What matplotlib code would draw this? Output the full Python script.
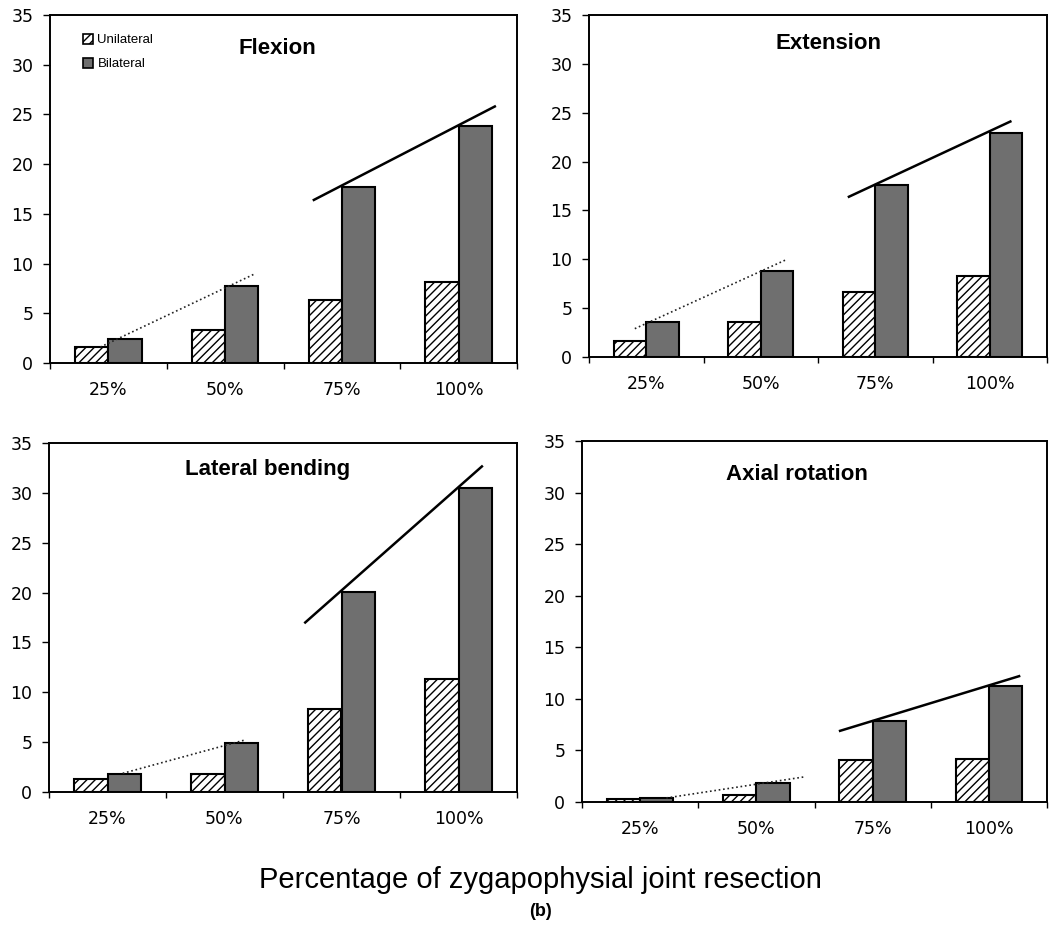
import matplotlib
matplotlib.use("Agg")
import matplotlib.pyplot as plt
from matplotlib.patches import Patch
import numpy as np

plt.rcParams['hatch.linewidth'] = 1.0

categories = ['25%', '50%', '75%', '100%']

flexion_uni = [1.6, 3.3, 6.3, 8.1]
flexion_bi = [2.4, 7.7, 17.7, 23.8]
extension_uni = [1.6, 3.6, 6.7, 8.3]
extension_bi = [3.6, 8.8, 17.6, 22.9]
lateral_uni = [1.3, 1.8, 8.3, 11.3]
lateral_bi = [1.8, 4.9, 20.1, 30.5]
axial_uni = [0.3, 0.7, 4.1, 4.2]
axial_bi = [0.4, 1.8, 7.9, 11.2]

# trend lines: (x0, y0, x1, y1) in category-index / value units
flexion_dotted = [-0.07, 1.6, 1.26, 9.0]
flexion_solid = [1.76, 16.4, 3.31, 25.8]
extension_dotted = [-0.10, 2.9, 1.23, 10.0]
extension_solid = [1.77, 16.4, 3.18, 24.1]
lateral_dotted = [0.13, 1.87, 1.17, 5.2]
lateral_solid = [1.69, 17.0, 3.20, 32.65]
axial_dotted = [0.225, 0.39, 1.41, 2.43]
axial_solid = [1.72, 6.9, 3.26, 12.2]

W, H = 1049, 932
fig = plt.figure(figsize=(W / 100, H / 100), dpi=100)


def px_axes(left, right, top, bottom):
    return fig.add_axes([left / W, (H - bottom) / H, (right - left) / W, (bottom - top) / H])


panels = [
    ("Flexion", flexion_uni, flexion_bi, flexion_dotted, flexion_solid, (50, 517, 15, 363), (0.486, 0.905), True),
    ("Extension", extension_uni, extension_bi, extension_dotted, extension_solid, (589, 1047, 15, 357), (0.524, 0.918), False),
    ("Lateral bending", lateral_uni, lateral_bi, lateral_dotted, lateral_solid, (49, 517, 443, 792), (0.466, 0.923), False),
    ("Axial rotation", axial_uni, axial_bi, axial_dotted, axial_solid, (582, 1047, 441, 802), (0.462, 0.906), False),
]

bw = 0.285
uni_color = 'white'
bi_color = '#6f6f6f'
tick_fs = 12.5

for title, uni, bi, dotted, solid, box, tpos, show_legend in panels:
    ax = px_axes(*box)
    x = np.arange(len(categories))
    ax.bar(x - bw / 2, uni, width=bw, facecolor=uni_color, edgecolor='black',
           hatch='////', linewidth=1.5, zorder=2)
    ax.bar(x + bw / 2, bi, width=bw, facecolor=bi_color, edgecolor='black',
           linewidth=1.5, zorder=2)
    ax.plot([dotted[0], dotted[2]], [dotted[1], dotted[3]], linestyle=':',
            color='#222222', linewidth=1.2, zorder=3)
    ax.plot([solid[0], solid[2]], [solid[1], solid[3]], linestyle='-',
            color='black', linewidth=1.8, zorder=3)
    ax.set_xlim(-0.5, 3.5)
    ax.set_ylim(0, 35)
    ax.set_yticks(np.arange(0, 36, 5))
    ax.set_xticks(x)
    ax.set_xticklabels(categories, family='DejaVu Sans', fontsize=tick_fs)
    ax.set_xticks(np.arange(-0.5, 3.6, 1.0), minor=True)
    ax.tick_params(axis='x', which='major', length=0, pad=13)
    ax.tick_params(axis='x', which='minor', length=4, direction='out', width=1)
    ax.tick_params(axis='y', length=5, direction='out', pad=7, labelsize=tick_fs, width=1)
    for lab in ax.get_yticklabels():
        lab.set_family('DejaVu Sans')
    for sp in ax.spines.values():
        sp.set_linewidth(1.4)
    ax.text(tpos[0], tpos[1], title, transform=ax.transAxes, ha='center', va='center',
            fontsize=16, fontweight='bold', family='Liberation Sans')
    if show_legend:
        handles = [Patch(facecolor='white', edgecolor='black', hatch='////', linewidth=1.2),
                   Patch(facecolor=bi_color, edgecolor='black', linewidth=1.2)]
        ax.legend(handles, ['Unilateral', 'Bilateral'], loc='upper left',
                  bbox_to_anchor=(0.045, 0.98), frameon=False,
                  handlelength=0.8, handleheight=0.8, handletextpad=0.3,
                  labelspacing=0.85, prop={'family': 'Liberation Sans', 'size': 9.5})

fig.text(540 / W, 1 - 880 / H, 'Percentage of zygapophysial joint resection',
         ha='center', va='center', fontsize=21, family='Liberation Sans')
fig.text(540 / W, 1 - 912 / H, '(b)', ha='center', va='center', fontsize=13,
         fontweight='bold', family='Liberation Sans')

fig.savefig('out.png', dpi=100)
